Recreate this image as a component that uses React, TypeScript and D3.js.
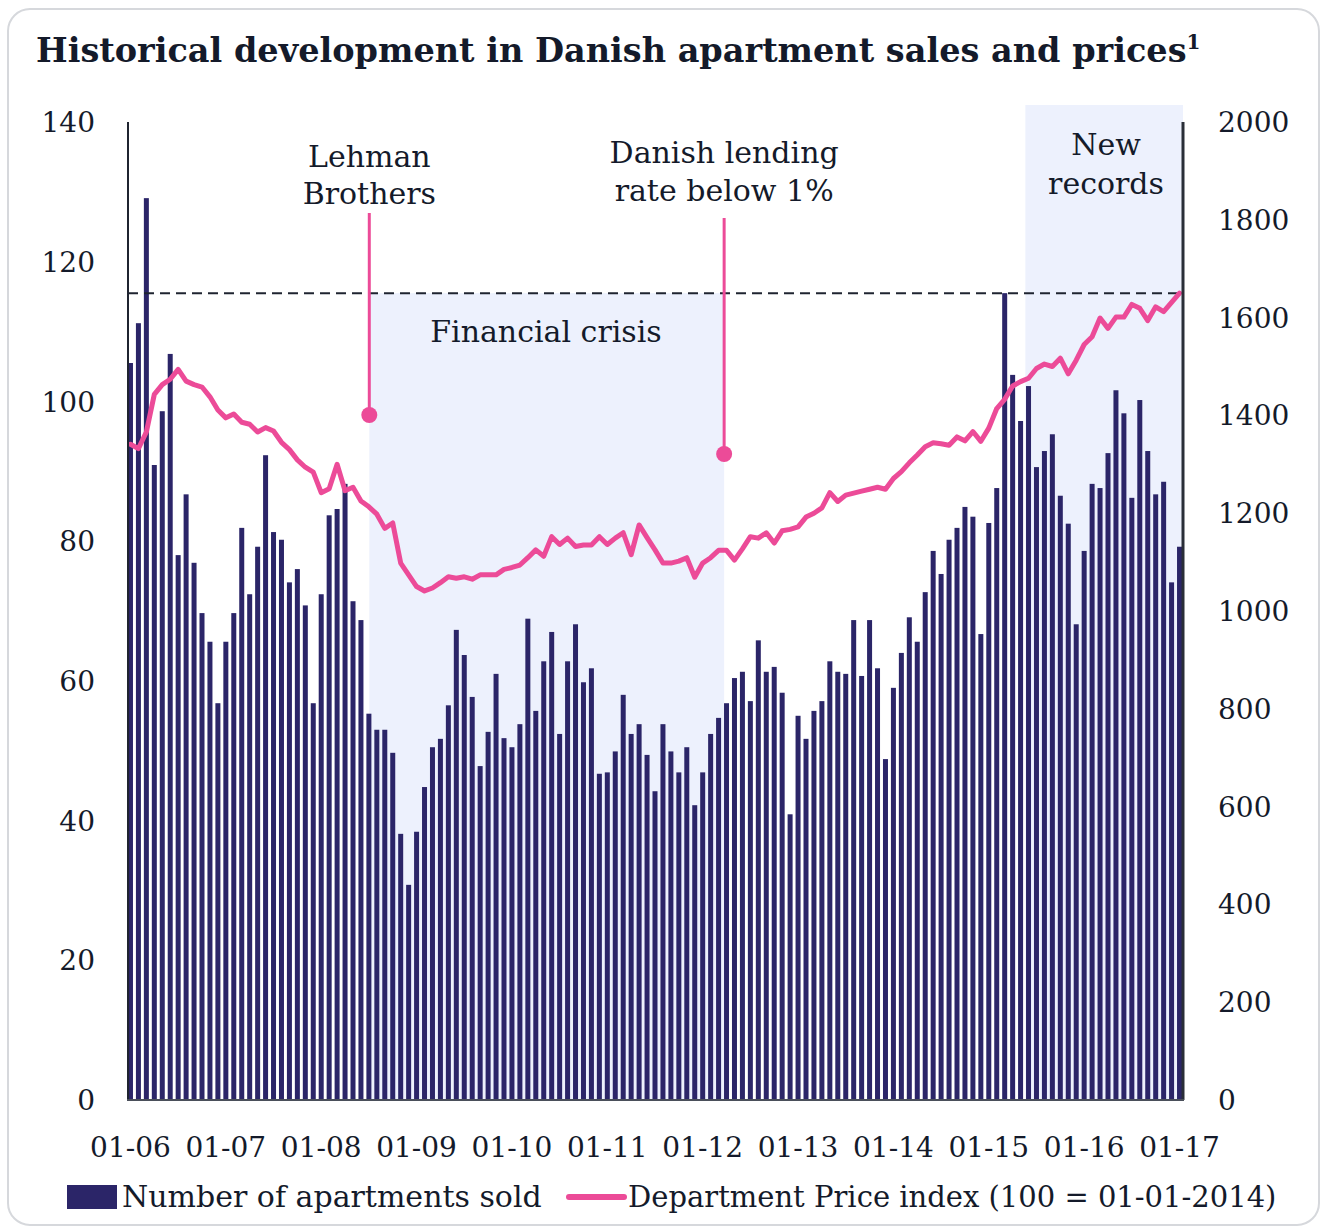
import React from "react";
import * as d3 from "d3";

const monthLabels = ["01-06","01-07","01-08","01-09","01-10","01-11","01-12","01-13","01-14","01-15","01-16","01-17"];
const leftTicks = [0, 20, 40, 60, 80, 100, 120, 140];
const rightTicks = [0, 200, 400, 600, 800, 1000, 1200, 1400, 1600, 1800, 2000];

const apartmentsSold = [
  105.5, 111.2, 129.1, 90.9, 98.6, 106.8, 78.0, 86.7, 76.9, 69.7, 65.6, 56.8,
  65.6, 69.7, 81.9, 72.4, 79.2, 92.3, 81.3, 80.2, 74.1, 76.0, 70.8, 56.8,
  72.4, 83.7, 84.6, 88.2, 71.4, 68.7, 55.3, 53.0, 53.0, 49.7, 38.1, 30.8,
  38.4, 44.8, 50.5, 51.7, 56.5, 67.3, 63.7, 57.7, 47.8, 52.7, 61.0, 51.8,
  50.5, 53.8, 68.9, 55.7, 62.8, 67.0, 52.4, 62.8, 68.1, 59.8, 61.8, 46.7,
  46.9, 49.9, 58.0, 52.4, 53.8, 49.4, 44.2, 53.8, 49.9, 46.9, 50.5, 42.2,
  46.9, 52.4, 54.7, 56.8, 60.4, 61.3, 57.1, 65.8, 61.3, 62.0, 58.3, 40.9,
  55.0, 51.7, 55.7, 57.1, 62.8, 61.3, 61.0, 68.7, 60.7, 68.7, 61.8, 48.8,
  59.0, 64.0, 69.1, 65.6, 72.7, 78.6, 75.3, 80.2, 81.9, 84.9, 83.5, 66.7,
  82.6, 87.6, 115.5, 103.8, 97.2, 102.2, 90.6, 92.9, 95.3, 86.5, 82.5, 68.1,
  78.6, 88.2, 87.6, 92.6, 101.6, 98.3, 86.2, 100.2, 92.9, 86.7, 88.5, 74.1,
  79.2,
];

const priceIndex = [
  1341, 1332, 1366, 1443, 1463, 1474, 1494, 1470, 1463, 1458, 1438, 1411,
  1395, 1403, 1386, 1382, 1366, 1375, 1368, 1345, 1330, 1309, 1294, 1284,
  1242, 1250, 1300, 1246, 1253, 1225, 1213, 1198, 1169, 1180, 1098, 1074,
  1050, 1041, 1047, 1058, 1070, 1067, 1070, 1065, 1074, 1074, 1074, 1085,
  1089, 1094, 1109, 1125, 1112, 1152, 1136, 1149, 1132, 1135, 1135, 1152,
  1136, 1149, 1160, 1115, 1176, 1150, 1125, 1098, 1098, 1102, 1109, 1069,
  1098, 1109, 1124, 1124, 1104, 1127, 1152, 1149, 1160, 1139, 1164, 1167,
  1172, 1192, 1200, 1211, 1242, 1224, 1237, 1241, 1245, 1249, 1253, 1249,
  1271, 1285, 1303, 1319, 1336, 1344, 1342, 1339, 1356, 1348, 1367, 1347,
  1374, 1414, 1433, 1460, 1469, 1476, 1496, 1505, 1500, 1517, 1485, 1513,
  1545, 1561, 1599, 1578, 1601, 1601, 1627, 1619, 1594, 1622, 1612, 1631,
  1650,
];

// annotations (month index positions)
const lehmanIdx = 30.05;
const lendingIdx = 74.7;
const recordsStartIdx = 112.6;
const recordLevel = 1650;

const NAVY = "#2B2568";
const PINK = "#EC4B98";
const SHADE = "#EDF1FD";
const INK = "#141a2a";
const FONT = "'DejaVu Serif', serif";

export default function App() {
  const n = apartmentsSold.length;
  const x = d3.scaleLinear().domain([-0.5, n - 0.5]).range([126.5, 1183.5]);
  const yL = d3.scaleLinear().domain([0, 140]).range([1100, 122]);
  const yR = d3.scaleLinear().domain([0, 2000]).range([1100, 122]);
  const barW = 5;

  const line = d3
    .line<number>()
    .x((_, i) => x(i))
    .y((d) => yR(d));

  const yearIdx = monthLabels.map((_, i) => i * 12);

  return (
    <div style={{ position: "absolute", left: 0, top: 0 }}>
      <svg width={1324} height={1228} style={{ display: "block", fontFamily: FONT }}>
        <rect x={0} y={0} width={1324} height={1228} fill="#fff" />
        <rect x={8} y={9} width={1311} height={1216} rx={22} fill="#fff" stroke="#D6D8DC" strokeWidth={2} />

        <text x={36} y={62} fontSize={33.5} fontWeight="bold" fill={INK}>
          Historical development in Danish apartment sales and prices
          <tspan fontSize={20} dy={-13}>1</tspan>
        </text>

        {/* shaded regions */}
        <rect x={x(lehmanIdx)} y={yR(recordLevel)} width={x(lendingIdx) - x(lehmanIdx)} height={1100 - yR(recordLevel)} fill={SHADE} />
        <rect x={x(recordsStartIdx)} y={105} width={1183 - x(recordsStartIdx)} height={1100 - 105} fill={SHADE} />

        {/* bars */}
        {apartmentsSold.map((v, i) => (
          <rect key={i} x={x(i) - barW / 2} y={yL(v)} width={barW} height={yL(0) - yL(v)} fill={NAVY} />
        ))}

        {/* dashed record line */}
        <line x1={128} x2={1183} y1={yR(recordLevel)} y2={yR(recordLevel)} stroke="#1f2430" strokeWidth={2} strokeDasharray="10 6" />

        {/* price line */}
        <path d={line(priceIndex) || ""} fill="none" stroke={PINK} strokeWidth={5} strokeLinejoin="round" strokeLinecap="round" />

        {/* axes */}
        <line x1={128} x2={128} y1={122} y2={1100} stroke="#1f2430" strokeWidth={2} />
        <line x1={1183} x2={1183} y1={122} y2={1100} stroke="#2a2e38" strokeWidth={3} />
        <line x1={127} x2={1184} y1={1100} y2={1100} stroke="#4a4f5a" strokeWidth={2} />

        {leftTicks.map((t) => (
          <text key={t} x={95} y={yL(t)} dy="0.36em" textAnchor="end" fontSize={28} fill={INK}>{t}</text>
        ))}
        {rightTicks.map((t) => (
          <text key={t} x={1218} y={yR(t)} dy="0.36em" textAnchor="start" fontSize={28} fill={INK}>{t}</text>
        ))}
        {monthLabels.map((l, i) => (
          <text key={l} x={x(yearIdx[i])} y={1157} textAnchor="middle" fontSize={28} fill={INK}>{l}</text>
        ))}

        {/* annotations */}
        <text x={x(lehmanIdx)} y={167} textAnchor="middle" fontSize={30} fill={INK}>Lehman</text>
        <text x={x(lehmanIdx)} y={204} textAnchor="middle" fontSize={30} fill={INK}>Brothers</text>
        <line x1={x(lehmanIdx)} x2={x(lehmanIdx)} y1={213} y2={415} stroke={PINK} strokeWidth={3} />
        <circle cx={x(lehmanIdx)} cy={415} r={8} fill={PINK} />

        <text x={x(lendingIdx)} y={163} textAnchor="middle" fontSize={30} fill={INK}>Danish lending</text>
        <text x={x(lendingIdx)} y={201} textAnchor="middle" fontSize={30} fill={INK}>rate below 1%</text>
        <line x1={x(lendingIdx)} x2={x(lendingIdx)} y1={218} y2={454} stroke={PINK} strokeWidth={3} />
        <circle cx={x(lendingIdx)} cy={454} r={8} fill={PINK} />

        <text x={546} y={342} textAnchor="middle" fontSize={30} fill={INK}>Financial crisis</text>

        <text x={1106} y={155} textAnchor="middle" fontSize={30} fill={INK}>New</text>
        <text x={1106} y={194} textAnchor="middle" fontSize={30} fill={INK}>records</text>

        {/* legend */}
        <rect x={67} y={1185} width={50} height={24} fill={NAVY} />
        <text x={122} y={1207} fontSize={30} fill={INK}>Number of apartments sold</text>
        <line x1={569} x2={624} y1={1197} y2={1197} stroke={PINK} strokeWidth={6} strokeLinecap="round" />
        <text x={628} y={1207} fontSize={29} fill={INK}>Department Price index (100 = 01-01-2014)</text>
      </svg>
    </div>
  );
}
